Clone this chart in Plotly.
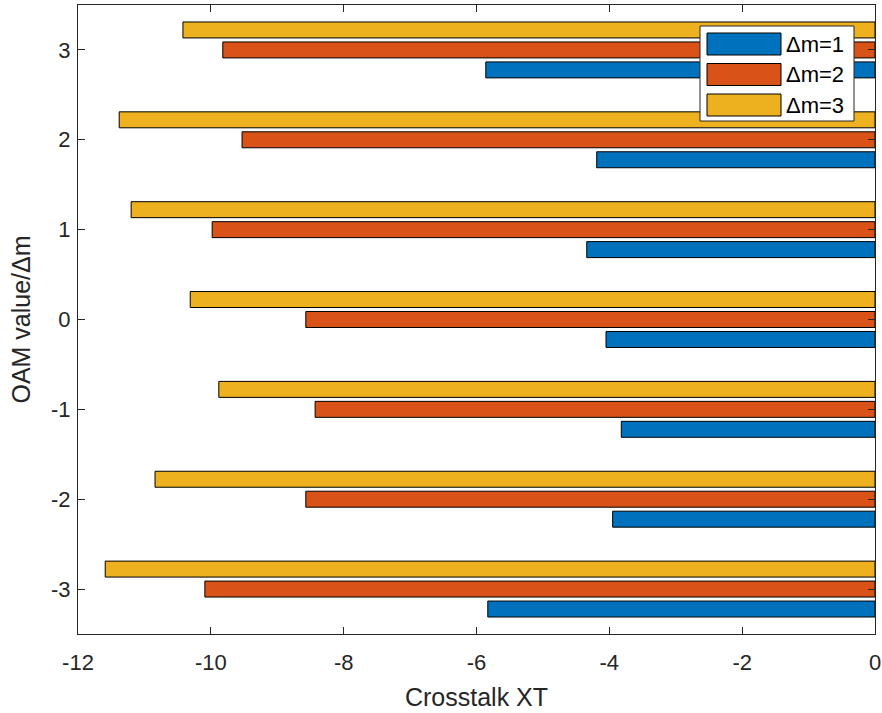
import plotly.graph_objects as go

# ---- data ----
oam_values = [-3, -2, -1, 0, 1, 2, 3]
tick_labels = ["-3", "-2", "-1", "0", "1", "2", "3"]
x_tick_vals = [-12, -10, -8, -6, -4, -2, 0]
x_tick_labels = ["-12", "-10", "-8", "-6", "-4", "-2", "0"]

dm1 = [-5.83, -3.95, -3.82, -4.05, -4.34, -4.19, -5.86]
dm2 = [-10.09, -8.57, -8.43, -8.57, -9.98, -9.53, -9.82]
dm3 = [-11.59, -10.84, -9.88, -10.31, -11.20, -11.38, -10.42]

series_names = ["\u0394m=1", "\u0394m=2", "\u0394m=3"]
series_values = [dm1, dm2, dm3]
series_colors = ["#0072BD", "#D95319", "#EDB120"]

# ---- layout geometry ----
W, H = 882, 713
L, R, T, B = 78, 7, 5, 79
PW, PH = W - L - R, H - T - B
AX = "#262626"
FONT = "Liberation Sans, Arial, Helvetica, sans-serif"

def px_x(p):
    return (p - L) / PW

def px_y(p):
    return (H - B - p) / PH

fig = go.Figure()
for name, vals, col in zip(series_names, series_values, series_colors):
    fig.add_trace(go.Bar(
        x=vals, y=oam_values, orientation="h", name=name,
        marker=dict(color=col, line=dict(color="#000000", width=1)),
        showlegend=False,
    ))

# custom MATLAB-style legend
shapes = [dict(type="rect", xref="paper", yref="paper",
               x0=px_x(700), x1=px_x(854), y0=px_y(121), y1=px_y(26),
               fillcolor="white", line=dict(color=AX, width=1), layer="above")]
annotations = []
row_centers = [44, 74.5, 105]
for name, col, cy in zip(series_names, series_colors, row_centers):
    shapes.append(dict(type="rect", xref="paper", yref="paper",
                       x0=px_x(707), x1=px_x(781), y0=px_y(cy + 11), y1=px_y(cy - 11),
                       fillcolor=col, line=dict(color="#000000", width=1), layer="above"))
    annotations.append(dict(xref="paper", yref="paper", x=px_x(784), y=px_y(cy),
                            text=name, showarrow=False, xanchor="left", yanchor="middle",
                            font=dict(family=FONT, size=22, color="#000000")))

fig.update_layout(
    width=W, height=H,
    margin=dict(l=L, r=R, t=T, b=B, autoexpand=False),
    paper_bgcolor="white", plot_bgcolor="white",
    barmode="group", bargap=0.3333, bargroupgap=0.2,
    font=dict(family=FONT, size=22, color=AX),
    shapes=shapes, annotations=annotations,
    xaxis=dict(
        range=[-12, 0], tickvals=x_tick_vals, ticktext=x_tick_labels,
        ticks="inside", ticklen=7, tickcolor=AX, tickwidth=1,
        showline=True, linecolor=AX, linewidth=1, mirror="ticks",
        showgrid=False, zeroline=False, automargin=False,
        ticklabelstandoff=9,
        tickfont=dict(size=22, color=AX),
        title=dict(text="Crosstalk XT", font=dict(size=25, color=AX), standoff=14),
    ),
    yaxis=dict(
        range=[-3.5, 3.5], tickvals=oam_values, ticktext=tick_labels,
        ticks="inside", ticklen=7, tickcolor=AX, tickwidth=1,
        showline=True, linecolor=AX, linewidth=1, mirror="ticks",
        showgrid=False, zeroline=False, automargin=False,
        ticklabelstandoff=2,
        tickfont=dict(size=22, color=AX),
        title=dict(text="OAM value/\u0394m", font=dict(size=25, color=AX), standoff=13),
    ),
)

fig.write_html("out.html", config={"displayModeBar": False},
               post_script="document.body.style.margin='0';")
